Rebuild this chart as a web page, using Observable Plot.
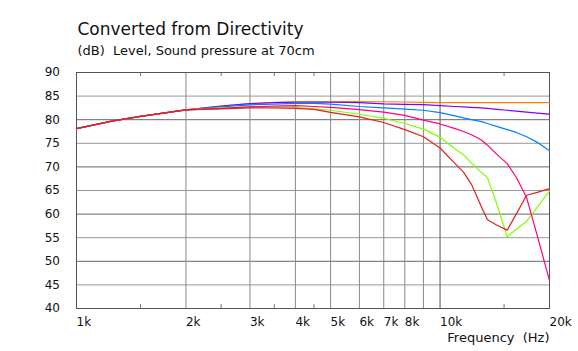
<!DOCTYPE html>
<html><head><meta charset="utf-8">
<script src="https://cdn.jsdelivr.net/npm/d3@7"></script>
<script src="https://cdn.jsdelivr.net/npm/@observablehq/plot@0.6"></script>
<style>
html,body{margin:0;padding:0;background:#fff;}
</style></head><body>
<div id="chart"></div>
<script>
const freqs = [1000,1250,1500,1750,2000,2500,3000,3500,4000,4500,5000,6000,7000,8000,9000,10000,11000,11600,12200,13000,13500,14300,15300,16200,17300,18500,20000];
const orange = [78.1,79.7,80.7,81.45,82.1,82.9,83.4,83.7,83.85,83.85,83.85,83.85,83.8,83.75,83.65,83.6,83.6,83.6,83.6,83.6,83.6,83.6,83.6,83.6,83.6,83.6,83.6];
const purple = [78.1,79.7,80.7,81.45,82.1,82.9,83.4,83.6,83.7,83.7,83.7,83.6,83.35,83.25,83.2,83.0,82.8,82.7,82.6,82.5,82.4,82.2,82.0,81.8,81.6,81.4,81.2];
const blue   = [78.1,79.7,80.7,81.45,82.1,82.7,83.15,83.3,83.45,83.45,83.3,82.8,82.5,82.25,82.0,81.5,80.8,80.4,80.0,79.6,79.2,78.6,77.9,77.3,76.4,75.2,73.4];
const pink   = [78.1,79.7,80.7,81.45,82.1,82.4,82.7,82.9,83.0,82.8,82.6,82.15,81.6,80.9,79.9,79.1,78.1,77.5,76.8,75.7,74.6,72.7,70.7,67.8,63.5,55.5,45.9];
const green  = [78.1,79.7,80.7,81.45,82.1,82.5,82.8,82.8,82.6,82.3,82.0,81.15,80.3,79.2,78.0,76.3,73.8,72.6,70.8,68.8,67.7,62.3,55.2,56.8,58.5,61.4,64.85];
const red    = [78.1,79.7,80.7,81.45,82.1,82.3,82.5,82.5,82.4,82.2,81.55,80.6,79.4,77.9,76.4,74.0,70.7,68.9,66.3,61.5,58.8,57.7,56.6,60.0,64.0,64.6,65.4];

const xTicks = [1000,2000,3000,4000,5000,6000,7000,8000,10000,20000];
const xTickLabels = ["1k","2k","3k","4k","5k","6k","7k","8k","10k","20k"];
const yTicks = [40,45,50,55,60,65,70,75,80,85,90];
const vGrid = [2000,3000,4000,5000,6000,7000,8000,9000];
const vGridMajor = [10000];
const minorTicks = [1500,2500,3500,4500,15000];
const hGridMajor = [50,60,70,80];
const hGridMinor = [45,55,65,75,85];

const title = "Converted from Directivity";
const subtitle = "(dB)\u00a0 Level, Sound pressure at 70cm";
const xLabel = "Frequency\u00a0 (Hz)";

const series = [
  {v: orange, c: "#ff8000"},
  {v: purple, c: "#8000ff"},
  {v: blue,   c: "#0080ff"},
  {v: green,  c: "#80ff00"},
  {v: pink,   c: "#ff0080"},
  {v: red,    c: "#dd2222"}
];
const toRows = vals => freqs.map((f, i) => ({f, v: vals[i]}));
const labelOf = d => xTickLabels[xTicks.indexOf(d)];

const font = "DejaVu Sans, Verdana, sans-serif";
const plot = Plot.plot({
  width: 578, height: 351,
  marginLeft: 76, marginRight: 29, marginTop: 72, marginBottom: 43,
  style: {fontFamily: font, fontSize: "12px", background: "#fff", color: "#111"},
  x: {type: "log", domain: [1000, 20000]},
  y: {domain: [40, 90]},
  marks: [
    Plot.ruleY(hGridMinor, {stroke: "#999", strokeWidth: 1}),
    Plot.ruleY(hGridMajor, {stroke: "#666", strokeWidth: 1}),
    Plot.ruleX(vGrid, {stroke: "#8a8a8a", strokeWidth: 1}),
    Plot.ruleX(vGridMajor, {stroke: "#555", strokeWidth: 1}),
    Plot.ruleX(minorTicks, {y1: 40, y2: 40.85, stroke: "#777"}),
    Plot.ruleX(minorTicks, {y1: 89.15, y2: 90, stroke: "#777"}),
    Plot.frame({stroke: "#555", strokeWidth: 1}),
    ...series.map(s => Plot.line(toRows(s.v), {x: "f", y: "v", stroke: s.c, strokeWidth: 1.2, curve: "linear"})),
    Plot.axisX({ticks: xTicks, tickFormat: labelOf, tickSize: 0, tickPadding: 8.5, textAnchor: "start", fontSize: 12, fill: "#111", label: null}),
    Plot.axisY({ticks: yTicks, tickSize: 0, tickPadding: 16.5, fontSize: 12, fill: "#111", label: null}),
    Plot.text([title], {frameAnchor: "top-left", text: d => d, dx: 1, dy: -49.8, lineAnchor: "top", textAnchor: "start", fontSize: 17, fill: "#111"}),
    Plot.text([subtitle], {frameAnchor: "top-left", text: d => d, dx: 1, dy: -26.6, lineAnchor: "top", textAnchor: "start", fontSize: 13, fill: "#111"}),
    Plot.text([xLabel], {frameAnchor: "bottom-right", text: d => d, dx: 0, dy: 24.5, lineAnchor: "top", textAnchor: "end", fontSize: 13, fill: "#111"})
  ]
});
document.getElementById("chart").appendChild(plot);
</script>
</body></html>
